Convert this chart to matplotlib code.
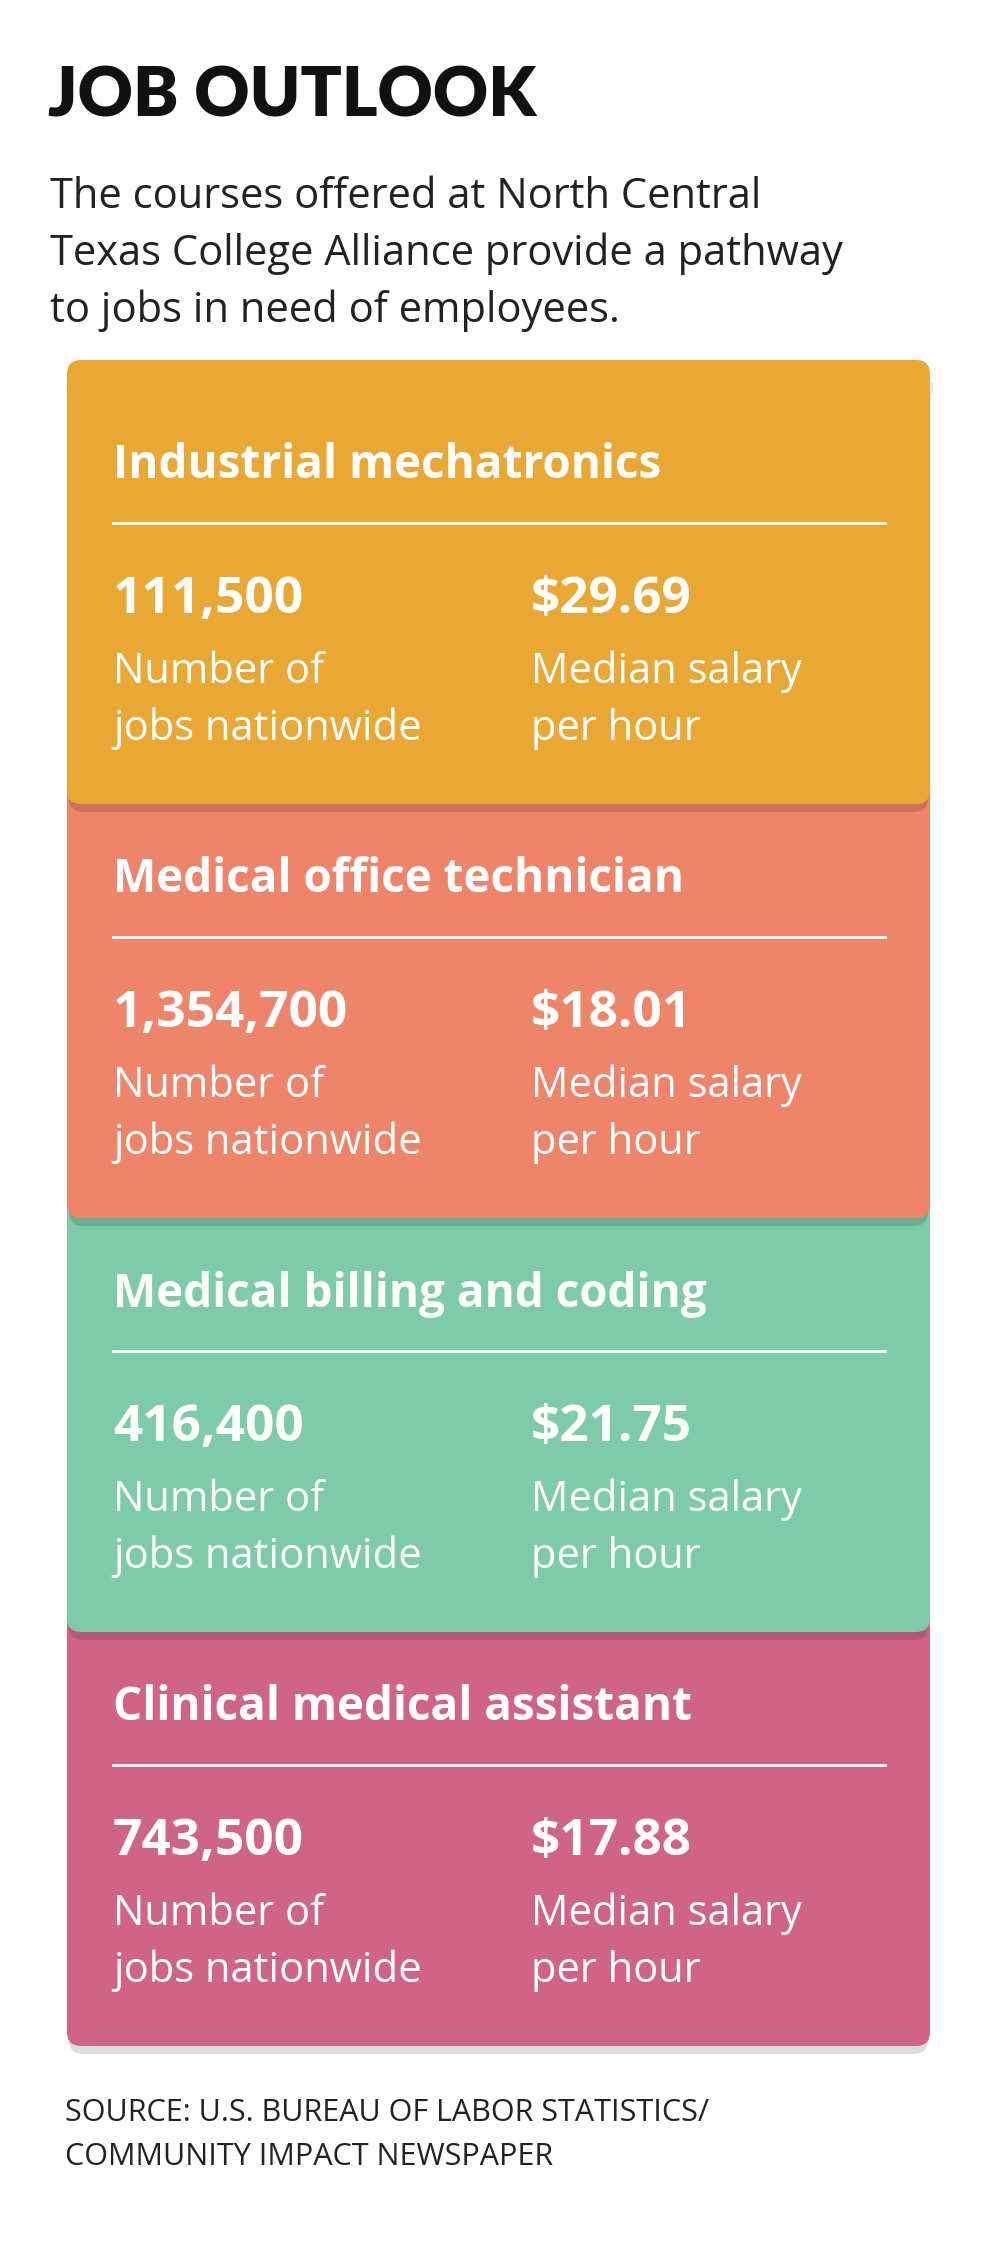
import matplotlib.pyplot as plt
from matplotlib.patches import FancyBboxPatch, Rectangle

titles = ["Industrial mechatronics", "Medical office technician",
          "Medical billing and coding", "Clinical medical assistant"]
jobs = ["111,500", "1,354,700", "416,400", "743,500"]
salaries = ["$29.69", "$18.01", "$21.75", "$17.88"]
colors = ["#E9A734", "#EE856A", "#7DCBAA", "#D06487"]

W, H = 1000, 2259
fig = plt.figure(figsize=(10, 22.59), dpi=100)
ax = fig.add_axes([0, 0, 1, 1])
ax.set_xlim(0, W)
ax.set_ylim(H, 0)
ax.axis('off')

font = 'Open Sans'
ax.text(48, 97, "JOB OUTLOOK", fontsize=49, fontweight='heavy', family='Lato',
        va='center', color='#111111')
sub = ["The courses offered at North Central",
       "Texas College Alliance provide a pathway",
       "to jobs in need of employees."]
for i, s in enumerate(sub):
    ax.text(50, 197 + i * 57, s, fontsize=30, family=font, va='center', color='#222222')

# shadow line above cards
ax.add_patch(Rectangle((67, 382), 865, 10, color='#e6e6e6', zorder=1))

top0, step = 390, 414
x0, x1 = 67, 930
for i in range(len(titles)):
    top = top0 + i * step
    bot = top + step
    z = 20 - i * 2
    # shadow
    ax.add_patch(FancyBboxPatch((x0 + 2, top - 30), x1 - x0 - 4, bot - top + 38,
                                boxstyle="round,pad=0,rounding_size=14",
                                color='#00000022', zorder=z - 1, lw=0))
    ax.add_patch(FancyBboxPatch((x0, top - 30), x1 - x0, bot - top + 30,
                                boxstyle="round,pad=0,rounding_size=14",
                                color=colors[i], zorder=z, lw=0))
    ax.text(113, top + 76, titles[i], fontsize=33, fontweight='bold', family=font,
            color='white', va='center', zorder=z)
    ax.plot([113, 885], [top + 133, top + 133], color='white', lw=2, zorder=z)
    ax.text(113, top + 210, jobs[i], fontsize=37, fontweight='bold', family=font,
            color='white', va='center', zorder=z)
    ax.text(531, top + 210, salaries[i], fontsize=37, fontweight='bold', family=font,
            color='white', va='center', zorder=z)
    for j, (a, b) in enumerate([("Number of", "Median salary"),
                                ("jobs nationwide", "per hour")]):
        y = top + 282 + j * 57
        ax.text(113, y, a, fontsize=30, family=font, color='white', va='center', zorder=z)
        ax.text(531, y, b, fontsize=30, family=font, color='white', va='center', zorder=z)

ax.text(65, 2113, "SOURCE: U.S. BUREAU OF LABOR STATISTICS/", fontsize=22,
        family=font, color='#222222', va='center')
ax.text(65, 2157, "COMMUNITY IMPACT NEWSPAPER", fontsize=22,
        family=font, color='#222222', va='center')

fig.savefig('out.png', dpi=100, facecolor='white')
